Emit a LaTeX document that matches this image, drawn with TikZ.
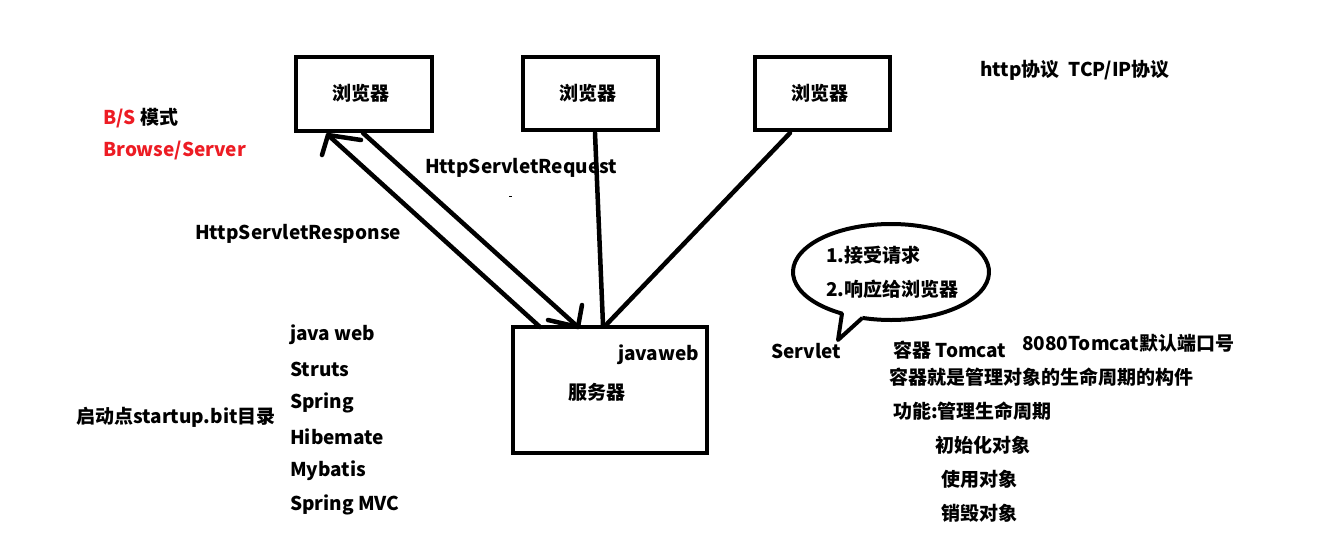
\documentclass[tikz,border=0pt]{standalone}
\usepackage{fontspec}
\newfontfamily\cjk{Noto Sans CJK SC}
\begin{document}
\begin{tikzpicture}[x=1pt,y=-1pt,
  box/.style={draw,line width=4pt,inner sep=0pt},
  lbl/.style={font=\cjk\bfseries\fontsize{19}{22}\selectfont,inner sep=0pt,anchor=west},
  red/.style={text={rgb,255:red,237;green,28;blue,36}},
  wire/.style={line width=4.5pt,line cap=round,line join=round}]
\useasboundingbox[fill=white] (0,0) rectangle (1340,548);
% boxes
\node[box,minimum width=136pt,minimum height=74pt] (b1) at (364,94) {};
\node[box,minimum width=135pt,minimum height=73pt] (b2) at (590.5,93.5) {};
\node[box,minimum width=135pt,minimum height=73pt] (b3) at (822.5,93.5) {};
\node[box,minimum width=194pt,minimum height=126pt] (srv) at (610,390) {};
\node[lbl,anchor=center] at (361,93) {浏览器};
\node[lbl,anchor=center] at (588,93) {浏览器};
\node[lbl,anchor=center] at (820,93) {浏览器};
\node[lbl] at (618,355) {javaweb};
\node[lbl] at (568,392) {服务器};
% connector points
\coordinate (r1) at (328,135);
\coordinate (r0) at (540,327);
\coordinate (q0) at (363,133);
\coordinate (q1) at (578,327);
\coordinate (m0) at (595,133);
\coordinate (m1) at (603,325);
\coordinate (n0) at (790,133);
\coordinate (n1) at (606,325);
% response arrow
\draw[wire] (r0) -- (r1);
\draw[wire] (322,155) -- (r1) -- (361,140);
% request arrow
\draw[wire] (q0) -- (q1);
\draw[wire] (582,305) -- (q1) -- (548,320);
\draw[wire] (m0) -- (m1);
\draw[wire] (n0) -- (n1);
\draw[line width=1pt] (509,196) -- (512,196);
% labels
\node[lbl] at (425,168) {HttpServletRequest};
\node[lbl] at (195,234) {HttpServletResponse};
\node[lbl] at (980,70) {http协议\hspace{9pt}TCP/IP协议};
\node[lbl,red] at (103,118) {B/S \textcolor{black}{模式}};
\node[lbl,red] at (103,151) {Browse/Server};
% speech bubble
\coordinate (bub) at (891,272);
\coordinate (tip) at (838,340);
\draw[line width=4pt,line join=round]
  ([shift={(107:98 and 48)}]bub) -- (tip) -- ([shift={(120:98 and 48)}]bub)
  arc[start angle=120,end angle=467,x radius=98,y radius=48];
\node[lbl] at (826,255) {1.接受请求};
\node[lbl] at (826,289) {2.响应给浏览器};
\node[lbl] at (771,351) {Servlet};
\node[lbl] at (893,350) {容器 Tomcat};
\node[lbl] at (1022,343) {8080Tomcat默认端口号};
\node[lbl] at (889,377) {容器就是管理对象的生命周期的构件};
\node[lbl] at (893,411) {功能:管理生命周期};
\node[lbl] at (935,445) {初始化对象};
\node[lbl] at (941,479) {使用对象};
\node[lbl] at (941,513) {销毁对象};
% left list
\node[lbl] at (290,335) {java web};
\node[lbl] at (290,369) {Struts};
\node[lbl] at (290,403) {Spring};
\node[lbl] at (290,437) {Hibemate};
\node[lbl] at (290,471) {Mybatis};
\node[lbl] at (290,505) {Spring MVC};
\node[lbl] at (76,417) {启动点startup.bit目录};
\end{tikzpicture}
\end{document}
